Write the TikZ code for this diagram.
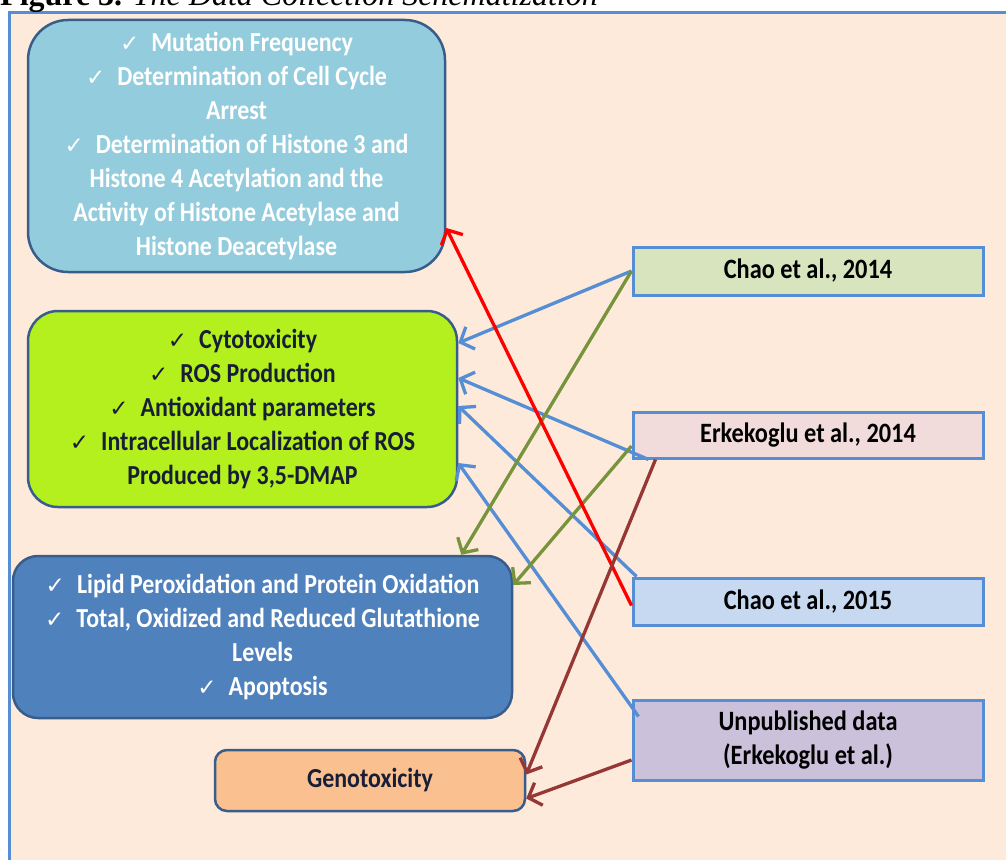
\documentclass[tikz,border=0pt]{standalone}
\usepackage{fontspec}
\setmainfont{Carlito}[FakeStretch=0.87]
\newfontfamily\capfont{Liberation Serif}
\newfontfamily\symfont{DejaVu Sans}
\usetikzlibrary{arrows.meta}
\definecolor{peach}{RGB}{253,234,218}
\definecolor{framblue}{RGB}{85,142,213}
\definecolor{navyline}{RGB}{56,93,138}
\definecolor{aquafill}{RGB}{147,205,221}
\definecolor{limefill}{RGB}{180,240,30}
\definecolor{bluefill}{RGB}{79,129,189}
\definecolor{orangefill}{RGB}{250,192,144}
\definecolor{darktext}{RGB}{25,30,55}
\definecolor{oliveline}{RGB}{119,147,60}
\definecolor{brownline}{RGB}{149,55,53}
\definecolor{refgreen}{RGB}{215,228,189}
\definecolor{refpink}{RGB}{242,220,219}
\definecolor{refblue}{RGB}{198,217,241}
\definecolor{refviolet}{RGB}{204,193,218}
\newcommand{\tick}{{\symfont\mdseries\fontsize{23}{34}\selectfont ✓}\hspace{12pt}}

\tikzset{
  resbox/.style={draw=navyline, line width=2.5pt, align=center,
    font=\bfseries\fontsize{27.5}{34}\selectfont, inner sep=0pt},
  refbox/.style={draw=framblue, line width=3pt, rectangle, align=center,
    minimum width=350pt, font=\bfseries\fontsize{28}{34}\selectfont, inner sep=0pt},
  link/.style={line width=3.3pt, -{Straight Barb[length=11pt,width=24pt]}},
}

\begin{document}
\begin{tikzpicture}[x=1pt,y=-1pt]
  \useasboundingbox (0,0) rectangle (1006,859);
  % frame and caption
  \fill[peach] (9,13) rectangle (1012,866);
  \draw[framblue, line width=3pt] (1012,13) -- (9,13) -- (9,866);
  \node[anchor=base west, inner sep=0pt, font=\capfont\fontsize{32}{34}\selectfont] (caption)
    at (0,6) {\textbf{Figure 3.} \textit{The Data Collection Schematization}};

  % result boxes
  \node[resbox, fill=aquafill, text=white, rounded corners=40pt,
    minimum width=417pt, minimum height=252pt] (mutation) at (236.5,146)
    {\tick Mutation Frequency\\ \tick Determination of Cell Cycle\\ Arrest\\
     \tick Determination of Histone 3 and\\ Histone 4 Acetylation and the\\
     Activity of Histone Acetylase and\\ Histone Deacetylase};
  \node[resbox, fill=limefill, text=darktext, rounded corners=30pt,
    minimum width=429pt, minimum height=196pt] (cytotox) at (242.5,409)
    {\tick Cytotoxicity\\ \tick ROS Production\\ \tick Antioxidant parameters\\
     \tick Intracellular Localization of ROS\\ Produced by 3,5-DMAP};
  \node[resbox, fill=bluefill, text=white, rounded corners=25pt,
    minimum width=499pt, minimum height=162pt] (lipid) at (262.5,637)
    {\tick Lipid Peroxidation and Protein Oxidation\\
     \tick Total, Oxidized and Reduced Glutathione\\ Levels\\ \tick Apoptosis};
  \node[resbox, fill=orangefill, text=darktext, rounded corners=12pt,
    minimum width=310pt, minimum height=61pt] (geno) at (370,780.5) {Genotoxicity};

  % references
  \node[refbox, fill=refgreen, minimum height=48pt] (chao14) at (808,271) {Chao et al., 2014};
  \node[refbox, fill=refpink, minimum height=46pt] (erke14) at (808,435) {Erkekoglu et al., 2014};
  \node[refbox, fill=refblue, minimum height=47pt] (chao15) at (808,601.5) {Chao et al., 2015};
  \node[refbox, fill=refviolet, minimum height=80pt] (unpub) at (808,740)
    {Unpublished data\\ (Erkekoglu et al.)};

  % connectors
  \draw[link, framblue] (chao14.west) -- ([yshift=66pt]cytotox.east);
  \draw[link, framblue] ([xshift=17pt]erke14.south west) -- ([yshift=31pt]cytotox.east);
  \draw[link, framblue] ([xshift=5pt]chao15.north west) -- ([yshift=3pt]cytotox.east);
  \draw[link, framblue] ([xshift=7pt,yshift=-18pt]unpub.north west) -- ([yshift=-54pt]cytotox.east);
  \draw[link, oliveline] (chao14.west) -- ([xshift=-52pt]lipid.north east);
  \draw[link, oliveline] ([yshift=-11pt]erke14.west) -- ([yshift=52pt]lipid.east);
  \draw[link, red] ([yshift=-4pt]chao15.west) -- ([yshift=-82pt]mutation.east);
  \draw[link, brownline] ([xshift=24pt]erke14.south west) -- ([yshift=6pt]geno.east);
  \draw[link, brownline] ([yshift=-20pt]unpub.west) -- ([yshift=-18pt]geno.east);
\end{tikzpicture}
\end{document}
